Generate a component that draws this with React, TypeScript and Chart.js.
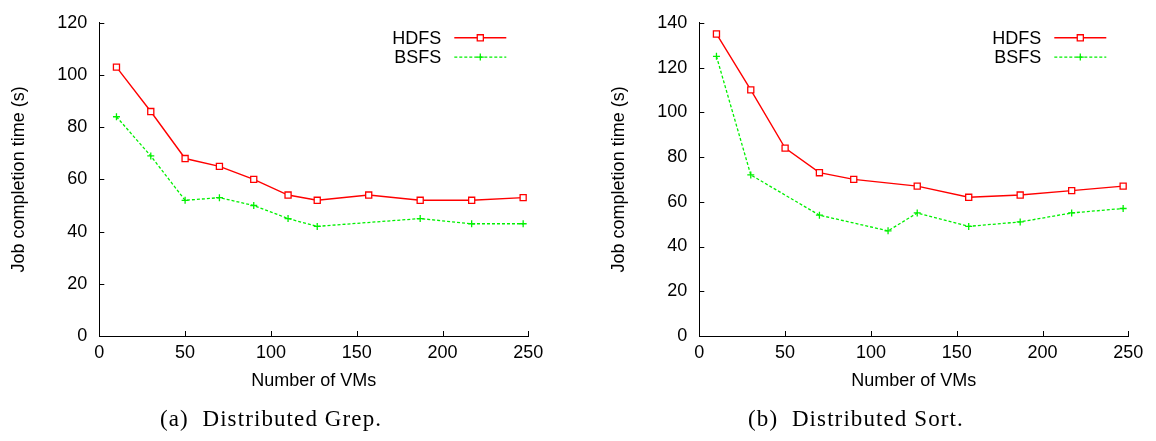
import React, { useEffect, useRef } from "react";
import { Chart, registerables } from "chart.js";

Chart.register(...registerables);

// ---------- data ----------
const seriesNames = ["HDFS", "BSFS"];
const xTicks = [0, 50, 100, 150, 200, 250];

const grepHdfsVMs = [10, 30, 50, 70, 90, 110, 127, 157, 187, 217, 247];
const grepHdfsTime = [103, 86, 68, 65, 60, 54, 52, 54, 52, 52, 53];
const grepBsfsVMs = [10, 30, 50, 70, 90, 110, 127, 187, 217, 247];
const grepBsfsTime = [84, 69, 52, 53, 50, 45, 42, 45, 43, 43];

const sortHdfsVMs = [10, 30, 50, 70, 90, 127, 157, 187, 217, 247];
const sortHdfsTime = [135, 110, 84, 73, 70, 67, 62, 63, 65, 67];
const sortBsfsVMs = [10, 30, 70, 110, 127, 157, 187, 217, 247];
const sortBsfsTime = [125, 72, 54, 47, 55, 49, 51, 55, 57];

const grepYMax = 120;
const sortYMax = 140;
const yStep = 20;

const xTitle = "Number of VMs";
const yTitle = "Job completion time (s)";
const captions = ["(a)  Distributed Grep.", "(b)  Distributed Sort."];

// ---------- styling ----------
const SANS = "'Liberation Sans', Arial, sans-serif";
const W = 556;
const H = 441;
const PLOT_LEFT = 99.3;
const PLOT_RIGHT = 528.3;

const pts = (xs: number[], ys: number[]) => xs.map((x, i) => ({ x, y: ys[i] }));

const inwardTicks = {
  id: "inwardTicks",
  afterDraw(chart: any) {
    const { ctx, chartArea } = chart;
    const xs = chart.scales.x;
    const ys = chart.scales.y;
    ctx.save();
    ctx.strokeStyle = "#000";
    ctx.lineWidth = 1;
    ctx.beginPath();
    xs.ticks.forEach((t: any) => {
      const px = Math.round(xs.getPixelForValue(t.value)) + 0.5;
      ctx.moveTo(px, chartArea.bottom);
      ctx.lineTo(px, chartArea.bottom - 5);
    });
    ys.ticks.forEach((t: any) => {
      const py = Math.round(ys.getPixelForValue(t.value)) + 0.5;
      ctx.moveTo(chartArea.left, py);
      ctx.lineTo(chartArea.left + 5, py);
    });
    ctx.stroke();
    ctx.restore();
  },
};

function drawMarker(ctx: CanvasRenderingContext2D, style: string, x: number, y: number, r: number, color: string, bw: number) {
  ctx.save();
  ctx.strokeStyle = color;
  ctx.lineWidth = bw;
  ctx.setLineDash([]);
  ctx.beginPath();
  if (style === "rect") {
    const s = Math.SQRT1_2 * r;
    ctx.fillStyle = "#fff";
    ctx.rect(x - s, y - s, 2 * s, 2 * s);
    ctx.fill();
  } else {
    ctx.moveTo(x - r, y);
    ctx.lineTo(x + r, y);
    ctx.moveTo(x, y - r);
    ctx.lineTo(x, y + r);
  }
  ctx.stroke();
  ctx.restore();
}

const gnuLegend = {
  id: "gnuLegend",
  afterDraw(chart: any) {
    const { ctx, chartArea } = chart;
    ctx.save();
    chart.data.datasets.forEach((ds: any, i: number) => {
      const y = chartArea.top + 15 + i * 19.3;
      const right = chartArea.right;
      ctx.fillStyle = "#000";
      ctx.font = `18px ${SANS}`;
      ctx.textAlign = "right";
      ctx.textBaseline = "middle";
      ctx.fillText(ds.label, right - 87, y + 1);
      ctx.strokeStyle = ds.borderColor;
      ctx.lineWidth = ds.borderWidth;
      ctx.setLineDash(ds.borderDash || []);
      ctx.beginPath();
      ctx.moveTo(right - 74, y);
      ctx.lineTo(right - 22, y);
      ctx.stroke();
      drawMarker(ctx, ds.pointStyle, right - 48, y, ds.pointRadius, ds.pointBorderColor, ds.pointBorderWidth);
    });
    ctx.restore();
  },
};

function makeConfig(hdfs: { x: number; y: number }[], bsfs: { x: number; y: number }[], yMax: number): any {
  return {
    type: "line",
    data: {
      datasets: [
        {
          label: seriesNames[0],
          data: hdfs,
          borderColor: "#ff0000",
          borderWidth: 1.4,
          pointStyle: "rect",
          pointRadius: 4.3,
          pointBorderColor: "#ff0000",
          pointBackgroundColor: "#ffffff",
          pointBorderWidth: 1.3,
          tension: 0,
        },
        {
          label: seriesNames[1],
          data: bsfs,
          borderColor: "#00f000",
          borderWidth: 1.3,
          borderDash: [3, 2],
          pointStyle: "cross",
          pointRadius: 3.5,
          pointBorderColor: "#00f000",
          pointBackgroundColor: "#00f000",
          pointBorderWidth: 1.3,
          tension: 0,
        },
      ],
    },
    options: {
      responsive: false,
      animation: false,
      events: [],
      layout: { padding: { top: 16, right: W - PLOT_RIGHT, bottom: 45, left: 0 } },
      plugins: { legend: { display: false }, tooltip: { enabled: false } },
      scales: {
        x: {
          type: "linear",
          min: xTicks[0],
          max: xTicks[xTicks.length - 1],
          afterBuildTicks: (s: any) => {
            s.ticks = xTicks.map((v) => ({ value: v }));
          },
          afterFit: (s: any) => {
            s.height = 60;
          },
          grid: { display: true, drawOnChartArea: false, drawTicks: false },
          border: { display: true, color: "#000", width: 1 },
          ticks: { color: "#000", font: { family: SANS, size: 18 }, padding: 6, maxRotation: 0, autoSkip: false },
          title: { display: true, text: xTitle, color: "#000", font: { family: SANS, size: 18 }, padding: { top: 0, bottom: 4 } },
        },
        y: {
          type: "linear",
          min: 0,
          max: yMax,
          afterFit: (s: any) => {
            s.width = PLOT_LEFT;
          },
          grid: { display: true, drawOnChartArea: false, drawTicks: false },
          border: { display: true, color: "#000", width: 1 },
          ticks: { stepSize: yStep, color: "#000", font: { family: SANS, size: 18 }, padding: 12 },
          title: { display: true, text: yTitle, color: "#000", font: { family: SANS, size: 18 }, padding: { top: 8, bottom: 0 } },
        },
      },
    },
    plugins: [inwardTicks, gnuLegend],
  };
}

function Panel({ left, config, caption, captionCenter }: { left: number; config: any; caption: string; captionCenter: number }) {
  const ref = useRef<HTMLCanvasElement | null>(null);
  useEffect(() => {
    if (!ref.current) return;
    const chart = new Chart(ref.current, config);
    return () => chart.destroy();
  }, []);
  return (
    <>
      <canvas ref={ref} width={W} height={H} style={{ position: "absolute", left, top: 0, width: W, height: H }} />
      <div
        style={{
          position: "absolute",
          left: captionCenter - 200,
          width: 400,
          top: 406,
          textAlign: "center",
          fontFamily: "'Liberation Serif', 'Times New Roman', serif",
          fontSize: 23,
          letterSpacing: "1.1px",
          whiteSpace: "pre",
          color: "#000",
        }}
      >
        {caption}
      </div>
    </>
  );
}

export default function App() {
  return (
    <div style={{ position: "fixed", left: 0, top: 0, width: 1156, height: 441, background: "#fff", overflow: "hidden" }}>
      <Panel left={0} config={makeConfig(pts(grepHdfsVMs, grepHdfsTime), pts(grepBsfsVMs, grepBsfsTime), grepYMax)} caption={captions[0]} captionCenter={271} />
      <Panel left={600} config={makeConfig(pts(sortHdfsVMs, sortHdfsTime), pts(sortBsfsVMs, sortBsfsTime), sortYMax)} caption={captions[1]} captionCenter={856} />
    </div>
  );
}
